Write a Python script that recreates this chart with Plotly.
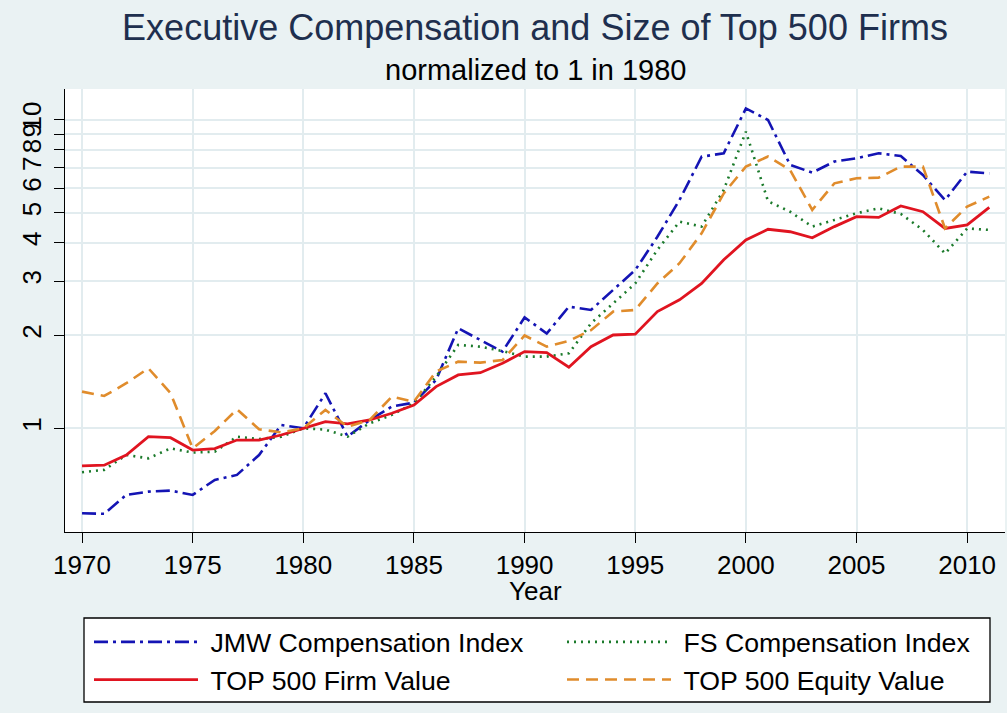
import plotly.graph_objects as go

# data (index, 1980 = 1)
years = list(range(1970, 2012))

jmw_comp = [0.53, 0.528, 0.608, 0.623, 0.628, 0.608, 0.68, 0.706, 0.819, 1.025,
            1.0, 1.299, 0.94, 1.064, 1.176, 1.211, 1.435, 2.11, 1.934, 1.773,
            2.29, 2.03, 2.48, 2.42, 2.81, 3.26, 4.18, 5.50, 7.60, 7.80,
            10.9, 10.0, 7.15, 6.75, 7.33, 7.51, 7.8, 7.64, 6.63, 5.50,
            6.80, 6.71]

fs_comp = [0.72, 0.733, 0.819, 0.799, 0.861, 0.834, 0.84, 0.939, 0.923, 0.939,
           1.0, 0.99, 0.94, 1.038, 1.105, 1.205, 1.47, 1.864, 1.84, 1.78,
           1.708, 1.708, 1.75, 2.19, 2.54, 2.95, 3.79, 4.68, 4.51, 5.93,
           9.17, 5.45, 5.04, 4.51, 4.74, 4.98, 5.17, 4.96, 4.40, 3.69,
           4.45, 4.40]

firm_value = [0.755, 0.759, 0.819, 0.939, 0.932, 0.85, 0.859, 0.916, 0.916, 0.951,
              1.0, 1.051, 1.033, 1.064, 1.119, 1.19, 1.365, 1.49, 1.515, 1.625,
              1.773, 1.76, 1.577, 1.84, 2.007, 2.02, 2.39, 2.61, 2.95, 3.52,
              4.08, 4.42, 4.34, 4.15, 4.51, 4.86, 4.83, 5.26, 5.04, 4.45,
              4.57, 5.21]

equity_value = [1.315, 1.273, 1.40, 1.565, 1.30, 0.861, 0.98, 1.152, 0.993, 0.97,
                1.0, 1.147, 1.012, 1.064, 1.267, 1.22, 1.527, 1.645, 1.633, 1.665,
                2.0, 1.84, 1.92, 2.08, 2.39, 2.42, 2.95, 3.43, 4.29, 5.78,
                7.06, 7.61, 6.88, 5.11, 6.23, 6.47, 6.5, 7.06, 7.06, 4.45,
                5.24, 5.64]

y_ticks = [1, 2, 3, 4, 5, 6, 7, 8, 9, 10]
x_ticks = [1970, 1975, 1980, 1985, 1990, 1995, 2000, 2005, 2010]

BG = "#EAF2F3"
GRID = "#E2ECEF"
FONT = "Liberation Sans, Arial, sans-serif"
NB = "\u00a0"  # small gap between legend line and its label

# plot area in pixels: x 65..1005, y 89..532
PW, PH = 940, 443


def px_x(x):
    return (x - 65) / PW


def px_y(y):
    return (532 - y) / PH


fig = go.Figure()

# left legend column: JMW, firm value / right column: FS, equity value
fig.add_scatter(
    x=years, y=jmw_comp, mode="lines", name=NB + "JMW Compensation Index",
    line=dict(color="#1414B4", width=2.6, dash="14px,5px,3px,5px"),
    legend="legend",
)
fig.add_scatter(
    x=years, y=fs_comp, mode="lines", name=NB + "FS Compensation Index",
    line=dict(color="#1B7A2B", width=2.6, dash="2px,5px"),
    legend="legend2",
)
fig.add_scatter(
    x=years, y=firm_value, mode="lines", name=NB + "TOP 500 Firm Value",
    line=dict(color="#E01420", width=2.8),
    legend="legend",
)
fig.add_scatter(
    x=years, y=equity_value, mode="lines", name=NB + "TOP 500 Equity Value",
    line=dict(color="#E08C2C", width=2.6, dash="12px,7px"),
    legend="legend2",
)

legend_style = dict(
    orientation="v",
    xref="container", xanchor="left",
    y=1 - 618 / 713, yref="container", yanchor="top",
    bgcolor="rgba(0,0,0,0)",
    borderwidth=0,
    font=dict(size=26.7),
    itemwidth=104,
    traceorder="normal",
    tracegroupgap=0,
)

fig.update_layout(
    width=1007,
    height=713,
    margin=dict(l=65, r=2, t=89, b=181, autoexpand=False),
    paper_bgcolor=BG,
    plot_bgcolor="white",
    font=dict(family=FONT, size=26, color="black"),
    title=dict(
        text="Executive Compensation and Size of Top 500 Firms",
        font=dict(size=36, color="#1E2F4E"),
        x=0.5, xref="paper", xanchor="center",
        y=1 - 27 / 713, yref="container", yanchor="middle",
    ),
    showlegend=True,
    legend=dict(legend_style, x=89 / 1007),
    legend2=dict(legend_style, x=562 / 1007),
    shapes=[
        # legend frame
        dict(
            type="rect", xref="paper", yref="paper",
            x0=px_x(84), x1=px_x(990), y0=px_y(702), y1=px_y(618),
            fillcolor="white", line=dict(color="black", width=1.3),
            layer="below",
        )
    ],
    annotations=[
        dict(
            text="normalized to 1 in 1980",
            x=0.5, xref="paper", xanchor="center",
            y=px_y(70), yref="paper",
            yanchor="middle", showarrow=False,
            font=dict(size=29, color="black"),
        ),
        dict(
            text="Year",
            x=0.5, xref="paper", xanchor="center",
            y=px_y(591), yref="paper",
            yanchor="middle", showarrow=False,
            font=dict(size=26, color="black"),
        ),
    ],
)

fig.update_xaxes(
    range=[1969.23, 2011.71],
    tickvals=x_ticks,
    ticks="outside", ticklen=10, tickcolor="black", tickwidth=1.3,
    showline=True, linecolor="black", linewidth=1.3,
    showgrid=True, gridcolor=GRID, gridwidth=2,
    zeroline=False, automargin=False,
)

fig.update_yaxes(
    type="log",
    range=[-0.3364, 1.1005],
    tickvals=y_ticks,
    ticktext=[str(v) for v in y_ticks],
    tickangle=-90,
    ticks="outside", ticklen=10, tickcolor="black", tickwidth=1.3,
    ticklabelstandoff=2,
    showline=True, linecolor="black", linewidth=1.3,
    showgrid=True, gridcolor=GRID, gridwidth=2,
    zeroline=False, automargin=False,
)

# drop the default page margin so the figure sits at the window corner
fig.write_html(
    "out.html",
    config={"displayModeBar": False},
    post_script="document.body.style.margin='0px';document.body.style.background='%s';" % BG,
)
